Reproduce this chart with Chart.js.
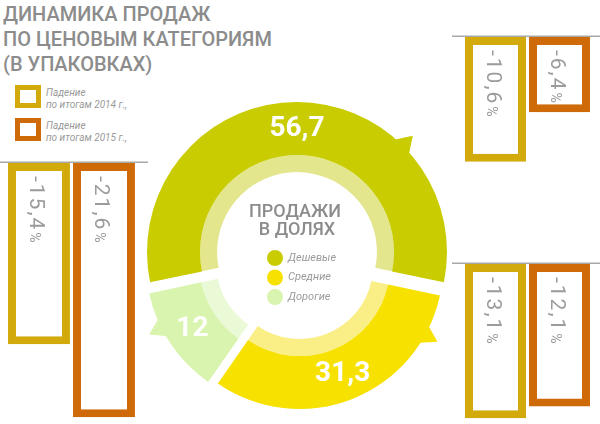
<!DOCTYPE html>
<html><head><meta charset="utf-8">
<script src="https://cdn.jsdelivr.net/npm/chart.js@4"></script>
<style>
html,body{margin:0;padding:0;background:#fff;width:600px;height:424px;overflow:hidden;position:relative;font-family:Roboto,"Noto Sans",sans-serif;}
canvas{position:absolute;}
#title{position:absolute;left:3px;top:2px;color:#8c8c8c;font:500 20px/25px Roboto;white-space:nowrap;}
.sq{position:absolute;left:15px;width:16px;height:13px;border:5px solid;}
.lt{position:absolute;left:46px;color:#9a9a9a;font:italic 10px/11.5px Roboto;white-space:nowrap;}
</style></head>
<body>
<div id="title">ДИНАМИКА ПРОДАЖ<br>ПО ЦЕНОВЫМ КАТЕГОРИЯМ<br>(В УПАКОВКАХ)</div>
<div class="sq" id="sq0" style="top:85px"></div>
<div class="lt" id="lt0" style="top:87px"></div>
<div class="sq" id="sq1" style="top:118px"></div>
<div class="lt" id="lt1" style="top:120px"></div>
<canvas id="donut" width="360" height="360" style="left:117px;top:79px"></canvas>
<canvas id="g0"></canvas>
<canvas id="g1"></canvas>
<canvas id="g2"></canvas>
<script>
// ---- data ----
const categories = ['Дешевые', 'Средние', 'Дорогие'];
const shares = [56.7, 31.3, 12];
const years = ['2014', '2015'];
const fall2014 = [-10.6, -13.1, -15.4];
const fall2015 = [-6.4, -12.1, -21.6];
const centerTitle = ['ПРОДАЖИ', 'В ДОЛЯХ'];
const legendTexts = [['Падение', 'по итогам 2014 г.,'], ['Падение', 'по итогам 2015 г.,']];

// ---- style ----
const GOLD = '#d2aa0c', ORANGE = '#cf6a08';
const yearColors = [GOLD, ORANGE];
const darkColors = ['#c8cc00', '#f7e100', '#d9f4ae'];
const lightColors = ['#e3e68c', '#faef86', '#ebfad6'];
const markerFrac = [0.72, 0.15, 0.66];
const PX_PER_UNIT = 11.8, Y_MIN = -22;
const groupLayout = [
  {left: 452, lineY: 37, width: 148, padL: 11.5, padR: 8.5},
  {left: 452, lineY: 264, width: 148, padL: 11.5, padR: 8.5},
  {left: 0, lineY: 163, width: 148, padL: 6.5, padR: 11.5}
];

const fmt = v => String(v).replace('.', ',');

// legend (html)
legendTexts.forEach((t, i) => {
  document.getElementById('sq' + i).style.borderColor = yearColors[i];
  document.getElementById('lt' + i).innerHTML = t.join('<br>');
});

// ---- donut ----
const total = shares.reduce((a, b) => a + b, 0);
function arcGeom(arc) {
  const p = arc.getProps(['x','y','startAngle','endAngle','innerRadius','outerRadius','circumference'], true);
  const off = (arc.options.offset || 0) / 4;
  const mid = (p.startAngle + p.endAngle) / 2;
  const fix = 1 - Math.sin(Math.min(Math.PI, p.circumference || 0));
  return {cx: p.x + Math.cos(mid) * off, cy: p.y + Math.sin(mid) * off,
          ro: p.outerRadius + off * fix, ri: p.innerRadius + off * fix,
          s: p.startAngle, e: p.endAngle, mid};
}
const donutDecor = {
  id: 'donutDecor',
  beforeDatasetsDraw(chart) {
    const ctx = chart.ctx;
    chart.getDatasetMeta(0).data.forEach((arc, i) => {
      const g = arcGeom(arc);
      const a = g.s + markerFrac[i] * (g.e - g.s);
      const da = 6 * Math.PI / 180;
      const pt = (r, ang) => [g.cx + r * Math.cos(ang), g.cy + r * Math.sin(ang)];
      ctx.save();
      ctx.fillStyle = darkColors[i];
      ctx.beginPath();
      ctx.moveTo(...pt(g.ro - 8, a - da));
      ctx.lineTo(...pt(g.ro + 14, a));
      ctx.lineTo(...pt(g.ro - 8, a + da));
      ctx.closePath(); ctx.fill();
      ctx.restore();
    });
  },
  afterDatasetsDraw(chart) {
    const ctx = chart.ctx;
    chart.getDatasetMeta(0).data.forEach((arc, i) => {
      const g = arcGeom(arc);
      const r = (g.ro + g.ri) / 2;
      ctx.save();
      ctx.fillStyle = '#ffffff';
      ctx.font = 'bold 28px Roboto';
      ctx.textAlign = 'center'; ctx.textBaseline = 'middle';
      ctx.fillText(fmt(shares[i]), g.cx + r * Math.cos(g.mid), g.cy + r * Math.sin(g.mid));
      ctx.restore();
    });
  },
  afterDraw(chart) {
    const ctx = chart.ctx, ca = chart.chartArea;
    const cx = (ca.left + ca.right) / 2, cy = (ca.top + ca.bottom) / 2;
    ctx.save();
    ctx.fillStyle = '#8c8c8c';
    ctx.font = '500 18px Roboto';
    ctx.textAlign = 'center'; ctx.textBaseline = 'middle';
    ctx.fillText(centerTitle[0], cx - 2, cy - 47);
    ctx.fillText(centerTitle[1], cx, cy - 29);
    chart.data.labels.forEach((lab, i) => {
      const y = cy - 1 + i * 19.5;
      ctx.fillStyle = darkColors[i];
      ctx.beginPath(); ctx.arc(cx - 22, y, 8, 0, Math.PI * 2); ctx.fill();
      ctx.fillStyle = '#9a9a9a';
      ctx.font = 'italic 11px Roboto';
      ctx.textAlign = 'left';
      ctx.fillText(lab, cx - 9, y);
    });
    ctx.restore();
  }
};
new Chart(document.getElementById('donut'), {
  type: 'doughnut',
  data: {
    labels: categories,
    datasets: [
      {data: shares, backgroundColor: darkColors, borderWidth: 0, offset: 28, weight: 53},
      {data: shares, backgroundColor: lightColors, borderWidth: 0, offset: 28, weight: 17}
    ]
  },
  options: {
    responsive: false, animation: false, events: [],
    rotation: -(shares[0] / total) * 180,
    cutout: '51%', radius: 143,
    plugins: {legend: {display: false}, tooltip: {enabled: false}}
  },
  plugins: [donutDecor]
});

// ---- bar groups ----
const barDecor = {
  id: 'barDecor',
  beforeDatasetsDraw(chart) {
    const ctx = chart.ctx, y0 = chart.scales.y.getPixelForValue(0);
    ctx.save(); ctx.strokeStyle = '#a8a8a8'; ctx.lineWidth = 1.5;
    ctx.beginPath(); ctx.moveTo(0, y0 - 0.75); ctx.lineTo(chart.width, y0 - 0.75); ctx.stroke();
    ctx.restore();
  },
  afterDatasetsDraw(chart) {
    const ctx = chart.ctx, ds = chart.data.datasets[0];
    chart.getDatasetMeta(0).data.forEach((bar, i) => {
      const s = fmt(ds.data[i]);
      ctx.save();
      ctx.translate(bar.x - 9, bar.base + 13);
      ctx.rotate(Math.PI / 2);
      ctx.fillStyle = '#9b9b9b';
      ctx.textAlign = 'left'; ctx.textBaseline = 'alphabetic';
      ctx.font = '21px Roboto';
      ctx.letterSpacing = '2px';
      ctx.fillText(s, 0, 0);
      const w = ctx.measureText(s).width;
      ctx.letterSpacing = '0px';
      ctx.font = '14px Roboto';
      ctx.fillText('%', w + 1, 0);
      ctx.restore();
    });
  }
};
groupLayout.forEach((L, gi) => {
  const cv = document.getElementById('g' + gi);
  const h = 2 + Math.abs(Y_MIN) * PX_PER_UNIT;
  cv.width = L.width; cv.height = h;
  cv.style.left = L.left + 'px'; cv.style.top = (L.lineY - 2) + 'px';
  new Chart(cv, {
    type: 'bar',
    data: {
      labels: years,
      datasets: [{
        data: [fall2014[gi], fall2015[gi]],
        backgroundColor: '#ffffff', borderColor: yearColors,
        borderWidth: 8, borderSkipped: false,
        categoryPercentage: 1, barPercentage: 0.953
      }]
    },
    options: {
      responsive: false, animation: false, events: [],
      layout: {padding: {top: 2, bottom: 0, left: L.padL, right: L.padR}},
      scales: {
        x: {display: false},
        y: {display: false, min: Y_MIN, max: 0}
      },
      plugins: {legend: {display: false}, tooltip: {enabled: false}}
    },
    plugins: [barDecor]
  });
});
</script>
</body></html>
